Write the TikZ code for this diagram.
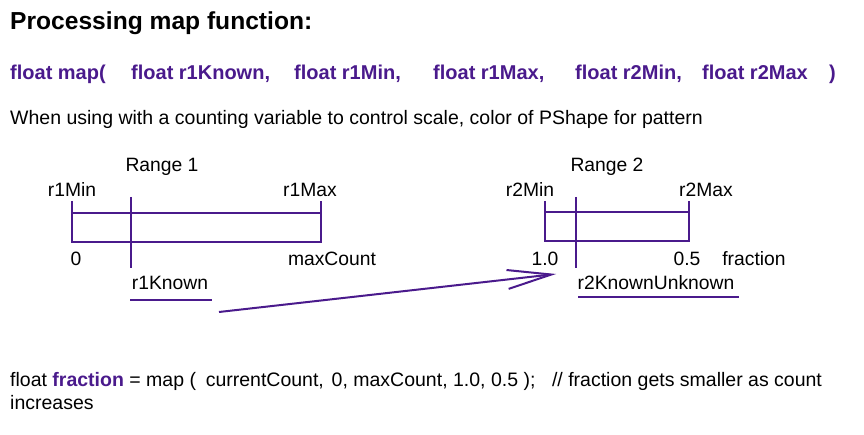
\documentclass[tikz,border=0pt]{standalone}
\usepackage{fontspec}
\setmainfont{Liberation Sans}
\usetikzlibrary{arrows.meta}
\definecolor{purp}{HTML}{4A1A8C}
\tikzset{
  lbl/.style={inner sep=0pt, font=\fontsize{19.3}{21}\selectfont, text=black},
  sig/.style={inner sep=0pt, anchor=base west, font=\fontsize{20}{22}\selectfont\bfseries, text=purp},
  body/.style={inner sep=0pt, anchor=base west, font=\fontsize{19.5}{21}\selectfont, text=black},
  bar/.style={draw=purp, line width=2pt},
}
\begin{document}
\begin{tikzpicture}[x=1pt,y=-1pt]
\useasboundingbox (0,0) rectangle (864,435);
% title
\node[inner sep=0pt, anchor=base west, font=\fontsize{24.6}{26}\selectfont\bfseries] (title) at (10,29.5) {Processing map function:};
% signature
\node[sig] (s1) at (10,80) {float map(};
\node[sig] (s2) at (131,80) {float r1Known,};
\node[sig] (s3) at (294,80) {float r1Min,};
\node[sig] (s4) at (433,80) {float r1Max,};
\node[sig] (s5) at (575,80) {float r2Min,};
\node[sig] (s6) at (702,80) {float r2Max};
\node[sig] (s7) at (829,80) {)};
% description
\node[body] (desc) at (10,125) {When using with a counting variable to control scale, color of PShape for pattern};
% Range 1
\coordinate (a1) at (72,201);
\coordinate (a2) at (72,213);
\coordinate (a3) at (72,242);
\coordinate (b1) at (321,201);
\coordinate (b2) at (321,213);
\coordinate (b3) at (321,242);
\coordinate (k1t) at (131,197);
\coordinate (k1b) at (131,268);
\draw[bar] (a1) -- (a3) -- (b3) -- (b1);
\draw[bar] (a2) -- (b2);
\draw[bar] (k1t) -- (k1b);
\node[lbl] (range1) at (162,167) {Range 1};
\node[lbl] (r1min) at (72,190) {r1Min};
\node[lbl] (r1max) at (310,190) {r1Max};
\node[lbl] (zero) at (76,259) {0};
\node[lbl] (maxc) at (332,259) {maxCount};
\node[lbl] (r1known) at (170,283) {r1Known};
\coordinate (u1a) at (130,300);
\coordinate (u1b) at (212,300);
\draw[bar] (u1a) -- (u1b);
% Range 2
\coordinate (c1) at (545,201);
\coordinate (c2) at (545,212);
\coordinate (c3) at (545,241);
\coordinate (d1) at (689,201);
\coordinate (d2) at (689,212);
\coordinate (d3) at (689,241);
\coordinate (k2t) at (576,197);
\coordinate (k2b) at (576,268);
\draw[bar] (c1) -- (c3) -- (d3) -- (d1);
\draw[bar] (c2) -- (d2);
\draw[bar] (k2t) -- (k2b);
\node[lbl] (range2) at (607,167) {Range 2};
\node[lbl] (r2min) at (530,190) {r2Min};
\node[lbl] (r2max) at (706,190) {r2Max};
\node[lbl] (one) at (545,259) {1.0};
\node[lbl] (half) at (687,259) {0.5};
\node[lbl] (frac) at (754,259) {fraction};
\node[lbl] (r2ku) at (656,283) {r2KnownUnknown};
\coordinate (u2a) at (578,297);
\coordinate (u2b) at (739,297);
\draw[bar] (u2a) -- (u2b);
% arrow
\coordinate (arrs) at (219,312);
\coordinate (arre) at (556,274);
\draw[bar, -{Straight Barb[length=44pt,width=19pt,line width=2pt]}] (arrs) -- (arre);
% bottom code line
\node[body] (code) at (10,386) {float \textcolor{purp}{\bfseries fraction} = map (\hspace{0.5em}currentCount,\hspace{0.4em}0, maxCount, 1.0, 0.5 );\hspace{0.85em}// fraction gets smaller as count};
\node[body] (code2) at (10,409) {increases};
\end{tikzpicture}
\end{document}
